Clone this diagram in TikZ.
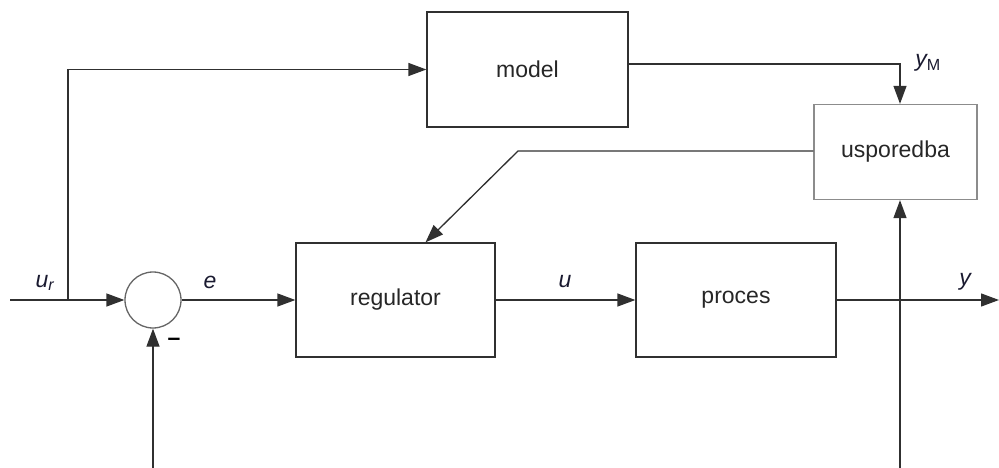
\documentclass[tikz,border=0pt]{standalone}
\usepackage{fontspec}
\setmainfont{Liberation Sans}
\usetikzlibrary{arrows.meta,calc}
\definecolor{ln}{HTML}{303030}
\definecolor{lbl}{HTML}{1A1A30}
\tikzset{
  blk/.style={draw=ln,line width=1.3pt,rectangle,inner sep=0pt,font=\fontsize{23}{26}\selectfont,text=black!85},
  arr/.style={draw=ln,line width=1.3pt,-{Triangle[length=18pt,width=13pt]}},
  wire/.style={draw=ln,line width=1.3pt},
  lab/.style={font=\fontsize{23}{26}\selectfont\itshape,text=lbl,inner sep=0pt}
}
\begin{document}
\begin{tikzpicture}[x=1pt,y=-1pt]
\useasboundingbox (0,0) rectangle (999,468);
\node[blk,minimum width=201pt,minimum height=115pt] (model) at (527.5,69.5) {model};
\node[blk,draw=black!45,minimum width=163pt,minimum height=95pt] (usp) at (895.5,152) {usporedba};
\node[blk,minimum width=199pt,minimum height=114pt] (reg) at (395.5,300) {regulator};
\node[blk,minimum width=200pt,minimum height=114pt] (proc) at (736,300) {proces};
\node[draw=black!60,line width=1.3pt,circle,minimum size=56pt,inner sep=0pt] (sum) at (153,300) {};
\coordinate (in) at (10,300);
\coordinate (br) at (68,300);
\coordinate (bend) at (518,151);
\coordinate (out) at (999,300);
\coordinate (b1) at (900,468);
\coordinate (b2) at (153,468);
\draw[arr] (in) -- (sum.west);
\draw[arr] (br) |- (model.west);
\draw[arr] ([yshift=5.5pt]model.east) -| ([xshift=4.5pt]usp.north);
\draw[arr] (usp.west |- bend) -- (bend) -- ([xshift=30pt]reg.north);
\draw[arr] (sum.east) -- (reg.west);
\draw[arr] (reg.east) -- (proc.west);
\draw[arr] (proc.east) -- (out);
\draw[arr] (b1) -- ([xshift=4.5pt]usp.south);
\draw[arr] (b2) -- (sum.south);
\node[lab] (lur) at (45,283) {u\textsubscript{r}};
\node[lab] (le) at (210,282) {e};
\node[lab] (lu) at (565,282) {u};
\node[lab] (ly) at (965,282) {y};
\node[lab] (lym) at (928,63) {y\textsubscript{\upshape M}};
\node[font=\fontsize{23}{26}\selectfont\bfseries,text=black,inner sep=0pt] (minus) at (174,342) {–};
\end{tikzpicture}
\end{document}
